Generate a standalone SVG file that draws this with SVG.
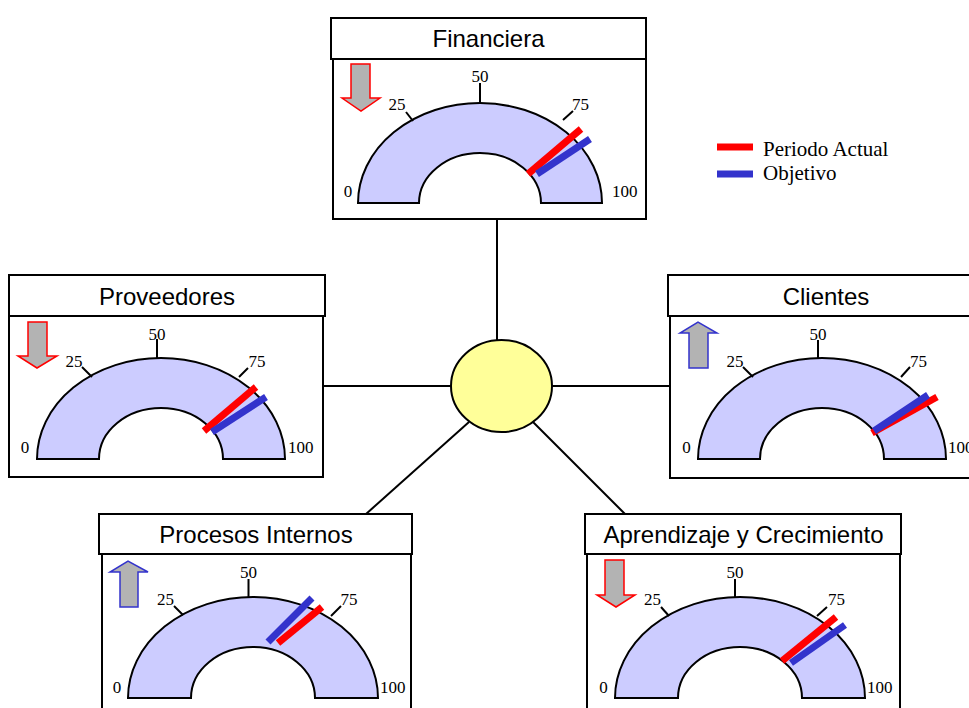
<svg xmlns="http://www.w3.org/2000/svg" width="969" height="708" viewBox="0 0 969 708">
  <style>
    .box { fill: #FFFFFF; stroke: #000000; stroke-width: 2; }
    .title { font-family: "Liberation Sans", Arial, sans-serif; font-size: 24px; fill: #000000; text-anchor: middle; }
    .band { fill: #CCCCFF; stroke: #000000; stroke-width: 2; stroke-linejoin: miter; }
    .tick { stroke: #000000; stroke-width: 2; }
    .lbl { font-family: "Liberation Serif", "Times New Roman", serif; font-size: 17px; fill: #000000; }
    .mid { text-anchor: middle; }
    .actual { stroke: #FF0000; stroke-width: 7; }
    .target { stroke: #3333CC; stroke-width: 7; }
    .down { fill: #B3B3B3; stroke: #FF0000; stroke-width: 1.5; }
    .up { fill: #B3B3B3; stroke: #3333CC; stroke-width: 1.5; }
    .link { stroke: #000000; stroke-width: 2; fill: none; }
    .legend { font-family: "Liberation Serif", "Times New Roman", serif; font-size: 21px; fill: #000000; }
  </style>

  <!-- connectors from the hub to each perspective -->
  <g id="connectors">
    <line class="link" x1="497" y1="219" x2="497" y2="341"/>
    <line class="link" x1="323" y1="386" x2="452" y2="386"/>
    <line class="link" x1="551" y1="386" x2="670" y2="386"/>
    <line class="link" x1="469" y1="422" x2="366" y2="514"/>
    <line class="link" x1="533" y1="422" x2="625" y2="514"/>
  </g>

  <!-- hub -->
  <g id="hub">
    <ellipse cx="501.5" cy="386" rx="50.5" ry="46" fill="#FFFF99" stroke="#000000" stroke-width="2"/>
  </g>

  <!-- Financiera -->
  <g id="financiera">
    <rect class="box" x="333" y="59" width="313" height="160"/>
    <rect class="box" x="331" y="18" width="315" height="41"/>
    <text class="title" x="488.5" y="47">Financiera</text>
    <polygon class="down" points="351,64 370,64 370,98 380,98 361,111 342,98 351,98"/>
    <path class="band" d="M358,203 A122,100 0 0 1 602,203 L541,203 A61,50 0 0 0 419,203 Z"/>
    <line class="tick" x1="413" y1="121" x2="406" y2="112"/>
    <line class="tick" x1="480" y1="103" x2="480" y2="83"/>
    <line class="tick" x1="563" y1="120" x2="573" y2="111"/>
    <text class="lbl mid" x="348" y="197">0</text>
    <text class="lbl mid" x="397" y="110">25</text>
    <text class="lbl mid" x="480" y="82">50</text>
    <text class="lbl mid" x="580.5" y="110">75</text>
    <text class="lbl" x="612" y="197">100</text>
    <line class="actual" x1="528" y1="174" x2="581" y2="129"/>
    <line class="target" x1="537" y1="174" x2="590" y2="139"/>
  </g>

  <!-- Proveedores -->
  <g id="proveedores">
    <rect class="box" x="9" y="316" width="314" height="161"/>
    <rect class="box" x="9" y="275" width="316" height="41"/>
    <text class="title" x="167" y="305">Proveedores</text>
    <polygon class="down" points="28,322 47,322 47,356 57,356 37,368 18,356 28,356"/>
    <path class="band" d="M37,459 A124,101 0 0 1 285,459 L223,459 A62,51 0 0 0 99,459 Z"/>
    <line class="tick" x1="92" y1="377" x2="82" y2="367"/>
    <line class="tick" x1="157" y1="358" x2="157" y2="339"/>
    <line class="tick" x1="239" y1="377" x2="248" y2="368"/>
    <text class="lbl mid" x="25" y="453">0</text>
    <text class="lbl mid" x="74" y="367">25</text>
    <text class="lbl mid" x="157" y="340">50</text>
    <text class="lbl mid" x="257" y="367">75</text>
    <text class="lbl" x="288" y="453">100</text>
    <line class="actual" x1="204" y1="431" x2="256" y2="387"/>
    <line class="target" x1="212" y1="432" x2="266" y2="397"/>
  </g>

  <!-- Clientes -->
  <g id="clientes">
    <rect class="box" x="670" y="316" width="314" height="162"/>
    <rect class="box" x="668" y="275" width="316" height="41"/>
    <text class="title" x="826" y="305">Clientes</text>
    <polygon class="up" points="689,368 708,368 708,333 717,333 698,322 680,333 689,333"/>
    <path class="band" d="M698,459 A124,101 0 0 1 946,459 L884,459 A62,51 0 0 0 760,459 Z"/>
    <line class="tick" x1="753" y1="377" x2="743" y2="367"/>
    <line class="tick" x1="818" y1="358" x2="818" y2="340"/>
    <line class="tick" x1="901" y1="377" x2="910" y2="367"/>
    <text class="lbl mid" x="686.5" y="453">0</text>
    <text class="lbl mid" x="735" y="367">25</text>
    <text class="lbl mid" x="818" y="340">50</text>
    <text class="lbl mid" x="918.5" y="367">75</text>
    <text class="lbl" x="948" y="453">100</text>
    <line class="actual" x1="872" y1="433" x2="937" y2="397"/>
    <line class="target" x1="874" y1="431" x2="928" y2="395"/>
  </g>

  <!-- Procesos Internos -->
  <g id="procesos-internos">
    <rect class="box" x="102" y="554" width="309" height="170"/>
    <rect class="box" x="99" y="514" width="313" height="40"/>
    <text class="title" x="256" y="542.5">Procesos Internos</text>
    <polygon class="up" points="120,607 138,607 138,572 148,572 128,561 110,572 120,572"/>
    <path class="band" d="M128,698 A125,101 0 0 1 378,698 L315,698 A62,51 0 0 0 191,698 Z"/>
    <line class="tick" x1="183" y1="615" x2="174" y2="606"/>
    <line class="tick" x1="248.5" y1="597" x2="248.5" y2="579"/>
    <line class="tick" x1="331" y1="616" x2="341" y2="606"/>
    <text class="lbl mid" x="117" y="693">0</text>
    <text class="lbl mid" x="165.5" y="605">25</text>
    <text class="lbl mid" x="248.5" y="578">50</text>
    <text class="lbl mid" x="349" y="605">75</text>
    <text class="lbl" x="380" y="693">100</text>
    <line class="actual" x1="278" y1="643" x2="322" y2="607"/>
    <line class="target" x1="268" y1="642" x2="312" y2="598"/>
  </g>

  <!-- Aprendizaje y Crecimiento -->
  <g id="aprendizaje-crecimiento">
    <rect class="box" x="587" y="554" width="313" height="170"/>
    <rect class="box" x="585" y="514" width="316" height="40"/>
    <text class="title" x="743.5" y="542.5">Aprendizaje y Crecimiento</text>
    <polygon class="down" points="605,560 624,560 624,595 635,595 616,607 597,595 605,595"/>
    <path class="band" d="M615,698 A125,101 0 0 1 865,698 L802,698 A62,51 0 0 0 678,698 Z"/>
    <line class="tick" x1="669" y1="616" x2="661" y2="607"/>
    <line class="tick" x1="735" y1="597" x2="735" y2="579"/>
    <line class="tick" x1="817" y1="616" x2="827" y2="607"/>
    <text class="lbl mid" x="603.5" y="693">0</text>
    <text class="lbl mid" x="652.5" y="605">25</text>
    <text class="lbl mid" x="735" y="578">50</text>
    <text class="lbl mid" x="836.5" y="605">75</text>
    <text class="lbl" x="867" y="693">100</text>
    <line class="actual" x1="782" y1="661" x2="836" y2="617"/>
    <line class="target" x1="791" y1="663" x2="845" y2="625"/>
  </g>

  <!-- legend -->
  <g id="legend">
    <line class="actual" x1="717" y1="147" x2="753" y2="147"/>
    <text class="legend" x="763" y="156">Periodo Actual</text>
    <line class="target" x1="717" y1="174" x2="753" y2="174"/>
    <text class="legend" x="763" y="180">Objetivo</text>
  </g>
</svg>
